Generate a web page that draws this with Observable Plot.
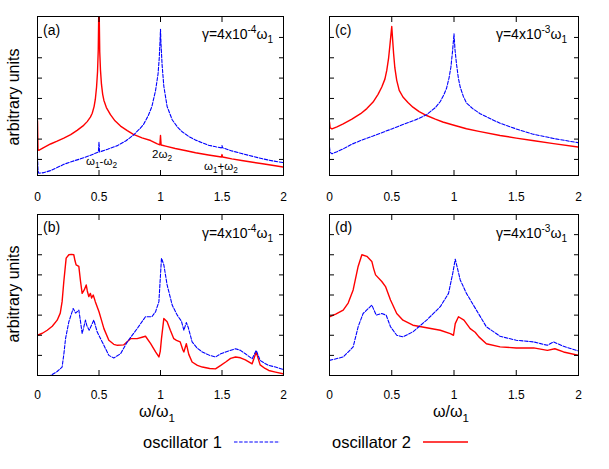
<!DOCTYPE html>
<html><head><meta charset="utf-8">
<script src="https://cdn.jsdelivr.net/npm/d3@7"></script>
<script src="https://cdn.jsdelivr.net/npm/@observablehq/plot@0.6"></script>
<style>
html,body{margin:0;padding:0;background:#fff;}
#wrap{position:relative;width:609px;height:469px;overflow:hidden;font-family:"Liberation Sans",Arial,sans-serif;}
#wrap svg{position:absolute;}
</style></head><body><div id="wrap"></div>
<script>
// ---------- data ----------
const xTicks = [0, 0.5, 1, 1.5, 2];
const yTicksTop = [0, 1, 2, 3, 4, 5, 6];
const yTicksBottom = [1, 2, 3, 4, 5, 6, 7];
const yDomainTop = [-0.79, 7.03];
const yDomainBottom = [0, 8];

// panel (a): gamma = 4e-4, harmonic drive
const a_osc2 = [[0,1.9],[0.004,0.5],[0.01,0.45],[0.05,0.58],[0.106,0.76],[0.16,0.9],[0.214,1.05],[0.27,1.22],[0.322,1.43],[0.37,1.65],[0.404,1.86],[0.43,2.08],[0.445,2.27],[0.46,2.6],[0.47,2.95],[0.48,3.55],[0.488,4.3],[0.494,5.4],[0.498,7.2],[0.5,8.5],[0.502,7.0],[0.506,5.3],[0.512,4.4],[0.52,3.7],[0.53,3.2],[0.54,2.9],[0.56,2.55],[0.593,2.2],[0.63,1.9],[0.675,1.64],[0.73,1.42],[0.78,1.23],[0.85,1.06],[0.92,0.93],[0.97,0.78],[0.995,0.72],[1.0,1.18],[1.005,0.71],[1.05,0.64],[1.12,0.54],[1.2,0.44],[1.285,0.33],[1.39,0.22],[1.495,0.12],[1.5,0.24],[1.505,0.12],[1.58,0.03],[1.66,-0.05],[1.75,-0.14],[1.83,-0.21],[1.92,-0.3],[2.0,-0.38]];
const a_osc1 = [[0,0.15],[0.004,-0.5],[0.01,-0.68],[0.05,-0.65],[0.106,-0.55],[0.16,-0.4],[0.214,-0.24],[0.28,-0.1],[0.35,0.03],[0.42,0.18],[0.495,0.36],[0.5,0.85],[0.505,0.37],[0.57,0.5],[0.65,0.68],[0.72,0.92],[0.78,1.2],[0.83,1.5],[0.86,1.7],[0.9,2.15],[0.93,2.6],[0.96,3.4],[0.98,4.2],[0.99,5.0],[0.996,5.8],[1.0,6.4],[1.004,5.7],[1.013,4.65],[1.027,3.6],[1.054,2.6],[1.095,1.95],[1.14,1.58],[1.176,1.36],[1.23,1.13],[1.285,0.95],[1.34,0.82],[1.39,0.7],[1.45,0.62],[1.495,0.57],[1.5,0.68],[1.505,0.57],[1.58,0.42],[1.66,0.29],[1.75,0.15],[1.83,0.03],[1.92,-0.08],[2.0,-0.16]];

// panel (c): gamma = 4e-3, harmonic drive
const c_osc2 = [[0,1.84],[0.005,1.55],[0.02,1.5],[0.06,1.6],[0.11,1.75],[0.18,1.98],[0.25,2.25],[0.3,2.5],[0.35,2.82],[0.39,3.2],[0.42,3.56],[0.445,3.95],[0.46,4.38],[0.475,5.0],[0.485,5.6],[0.493,6.1],[0.5,6.54],[0.507,5.9],[0.515,5.2],[0.525,4.5],[0.54,3.89],[0.56,3.4],[0.59,3.07],[0.63,2.8],[0.67,2.57],[0.72,2.35],[0.78,2.16],[0.85,1.98],[0.91,1.84],[1.0,1.68],[1.1,1.51],[1.2,1.38],[1.37,1.18],[1.5,1.05],[1.63,0.93],[1.8,0.78],[2.0,0.61]];
const c_osc1 = [[0,0.61],[0.005,0.35],[0.02,0.28],[0.06,0.38],[0.11,0.52],[0.18,0.75],[0.25,0.93],[0.35,1.15],[0.43,1.34],[0.5,1.5],[0.57,1.67],[0.64,1.83],[0.7,1.97],[0.78,2.2],[0.85,2.55],[0.89,2.85],[0.92,3.2],[0.94,3.5],[0.96,4.0],[0.975,4.54],[0.988,5.3],[1.0,6.18],[1.008,5.4],[1.02,4.7],[1.035,4.0],[1.05,3.56],[1.075,3.1],[1.1,2.78],[1.15,2.5],[1.21,2.25],[1.3,1.98],[1.37,1.78],[1.5,1.5],[1.63,1.25],[1.8,1.03],[2.0,0.82]];

// panel (b): gamma = 4e-4, random drive
const b_osc2 = [[0,2.0],[0.04,2.1],[0.079,2.25],[0.12,2.45],[0.16,2.75],[0.185,3.1],[0.2,3.67],[0.214,4.67],[0.233,5.83],[0.255,6.0],[0.275,6.02],[0.295,6.0],[0.305,5.7],[0.314,5.5],[0.336,5.42],[0.35,4.67],[0.363,4.08],[0.38,4.25],[0.396,4.5],[0.405,4.2],[0.417,3.92],[0.43,4.08],[0.44,3.85],[0.453,4.0],[0.47,3.67],[0.5,3.17],[0.52,2.75],[0.54,2.33],[0.58,1.75],[0.62,1.55],[0.65,1.5],[0.7,1.52],[0.756,1.83],[0.81,1.83],[0.85,1.9],[0.878,1.95],[0.92,1.58],[0.96,1.17],[0.987,0.92],[0.998,1.2],[1.008,1.83],[1.027,2.83],[1.054,2.67],[1.08,2.25],[1.108,1.83],[1.13,1.75],[1.16,1.67],[1.18,1.3],[1.19,1.17],[1.21,1.58],[1.23,1.05],[1.257,0.67],[1.3,0.5],[1.34,0.42],[1.4,0.35],[1.447,0.33],[1.49,0.5],[1.53,0.67],[1.57,0.85],[1.61,0.92],[1.65,0.88],[1.69,0.78],[1.745,0.58],[1.778,1.17],[1.81,0.53],[1.85,0.35],[1.88,0.25],[1.935,0.17],[2.0,0.08]];
const b_osc1 = [[0.06,-0.3],[0.106,0.0],[0.16,0.2],[0.2,0.42],[0.215,1.1],[0.228,1.83],[0.255,2.67],[0.29,3.33],[0.31,3.1],[0.336,3.25],[0.35,2.67],[0.363,2.08],[0.39,2.75],[0.40,2.5],[0.42,2.25],[0.458,2.75],[0.485,2.17],[0.526,1.67],[0.58,1.0],[0.62,0.87],[0.675,1.08],[0.73,1.67],[0.81,2.33],[0.878,2.92],[0.93,2.92],[0.96,3.17],[0.987,3.67],[1.008,5.83],[1.027,5.5],[1.054,4.5],[1.095,3.5],[1.136,3.0],[1.17,2.7],[1.19,2.25],[1.21,2.63],[1.225,2.4],[1.257,1.67],[1.3,1.35],[1.34,1.17],[1.4,1.0],[1.447,0.92],[1.49,1.08],[1.53,1.17],[1.61,1.33],[1.65,1.25],[1.69,1.08],[1.745,0.83],[1.778,1.25],[1.81,0.75],[1.85,0.6],[1.88,0.5],[1.935,0.42],[2.0,0.3]];

// panel (d): gamma = 4e-3, random drive
const d_osc2 = [[0,2.92],[0.05,3.05],[0.11,3.25],[0.15,3.6],[0.19,4.25],[0.23,5.42],[0.26,6.0],[0.3,5.92],[0.34,5.67],[0.355,5.3],[0.37,5.0],[0.42,4.67],[0.45,4.42],[0.49,3.75],[0.54,3.08],[0.59,2.75],[0.67,2.5],[0.78,2.37],[0.89,2.25],[0.97,2.08],[0.996,2.0],[1.01,2.58],[1.036,2.92],[1.08,2.75],[1.13,2.33],[1.17,2.15],[1.2,1.92],[1.26,1.58],[1.37,1.42],[1.5,1.37],[1.64,1.37],[1.75,1.25],[1.81,1.33],[1.88,1.17],[2.0,1.0]];
const d_osc1 = [[0,0.75],[0.11,0.92],[0.19,1.42],[0.23,2.42],[0.27,3.08],[0.34,3.5],[0.375,3.0],[0.42,3.08],[0.455,3.0],[0.49,2.42],[0.54,2.0],[0.59,1.92],[0.67,2.17],[0.78,2.75],[0.89,3.42],[0.956,4.08],[0.99,5.08],[1.01,5.78],[1.05,4.75],[1.1,4.08],[1.18,3.25],[1.26,2.42],[1.37,1.95],[1.5,1.75],[1.64,1.67],[1.75,1.5],[1.8,1.67],[1.88,1.45],[2.0,1.22]];

const panelLetters = ["(a)", "(b)", "(c)", "(d)"];
const gammaExps = ["-4", "-4", "-3", "-3"];
const legendLabels = ["oscillator 1", "oscillator 2"];
const colors = {osc1: "#0000ff", osc2: "#ff0000"};

// ---------- drawing ----------
const FONT = '"Liberation Sans", Arial, Helvetica, sans-serif';
const wrap = document.getElementById("wrap");
const fmt = d3.format("~g");

function panel(osc1, osc2, yDomain, yTicks, labelPad, frame) {
  const [L, R, T, B] = frame;
  const mB = 30;
  const svg = Plot.plot({
    width: R - L + 2, height: B - T + 1 + mB,
    marginLeft: 1, marginRight: 1, marginTop: 1, marginBottom: mB,
    style: {fontFamily: FONT, fontSize: "12px", background: "transparent", color: "black", overflow: "visible"},
    x: {domain: [0, 2]},
    y: {domain: yDomain},
    marks: [
      Plot.line(osc2, {x: d => d[0], y: d => d[1], stroke: colors.osc2, strokeWidth: 1.4, clip: true}),
      Plot.line(osc1, {x: d => d[0], y: d => d[1], stroke: colors.osc1, strokeWidth: 1.1, strokeDasharray: "3.5,1.6", clip: true}),
      Plot.axisX({anchor: "bottom", ticks: xTicks, tickSize: 5, dy: -5, fill: "none", label: null}),
      Plot.axisX({anchor: "top", ticks: xTicks, tickSize: 5, dy: 5, fill: "none", label: null}),
      Plot.axisY({anchor: "left", ticks: yTicks, tickSize: 5, dx: 5, fill: "none", label: null}),
      Plot.axisY({anchor: "right", ticks: yTicks, tickSize: 5, dx: -5, fill: "none", label: null}),
      Plot.axisX({anchor: "bottom", ticks: xTicks, tickSize: 0, tickPadding: labelPad, tickFormat: fmt, label: null, fontSize: 12}),
      Plot.frame({stroke: "black", strokeWidth: 1})
    ]
  });
  svg.style.left = (L - 1) + "px";
  svg.style.top = (T - 1) + "px";
  wrap.appendChild(svg);
}

panel(a_osc1, a_osc2, yDomainTop, yTicksTop, 17, [37, 283, 16, 175]);
panel(c_osc1, c_osc2, yDomainTop, yTicksTop, 17, [329, 578, 16, 175]);
panel(b_osc1, b_osc2, yDomainBottom, yTicksBottom, 14.5, [37, 283, 214, 375]);
panel(d_osc1, d_osc2, yDomainBottom, yTicksBottom, 14.5, [329, 578, 214, 375]);

// ---------- text overlay ----------
const ov = d3.select(wrap).append("svg")
  .attr("width", 609).attr("height", 469)
  .style("left", "0px").style("top", "0px")
  .style("font-family", FONT);

function rich(x, y, parts, fs, anchor = "start") {
  const t = ov.append("text").attr("x", x).attr("y", y)
    .attr("font-size", fs).attr("text-anchor", anchor).attr("fill", "black");
  let cur = 0;
  for (const [s, kind] of parts) {
    const target = kind === "sup" ? -0.42 * fs : kind === "sub" ? 0.3 * fs : 0;
    t.append("tspan").attr("dy", target - cur)
      .attr("font-size", kind === "n" ? fs : fs * 0.72).text(s);
    cur = target;
  }
  return t;
}

// panel letters
rich(43, 35, [[panelLetters[0], "n"]], 14);
rich(43, 232, [[panelLetters[1], "n"]], 14);
rich(335, 35, [[panelLetters[2], "n"]], 14);
rich(335, 232, [[panelLetters[3], "n"]], 14);

// gamma labels
function gamma(xEnd, y, e) {
  rich(xEnd, y, [["γ=4x10", "n"], [e, "sup"], ["ω", "n"], ["1", "sub"]], 14, "end");
}
gamma(273, 39, gammaExps[0]);
gamma(273, 238, gammaExps[1]);
gamma(567, 39, gammaExps[2]);
gamma(567, 238, gammaExps[3]);

// combination-frequency annotations in (a)
rich(86, 165, [["ω", "n"], ["1", "sub"], ["-ω", "n"], ["2", "sub"]], 11.5);
rich(152, 158, [["2ω", "n"], ["2", "sub"]], 11.5);
rich(204, 170, [["ω", "n"], ["1", "sub"], ["+ω", "n"], ["2", "sub"]], 11.5);

// y labels
ov.append("text").attr("transform", "translate(19,97) rotate(-90)")
  .attr("text-anchor", "middle").attr("font-size", 16).text("arbitrary units");
ov.append("text").attr("transform", "translate(19,294) rotate(-90)")
  .attr("text-anchor", "middle").attr("font-size", 16).text("arbitrary units");

// x labels
rich(157, 417, [["ω/ω", "n"], ["1", "sub"]], 16, "middle");
rich(451, 417, [["ω/ω", "n"], ["1", "sub"]], 16, "middle");

// legend
rich(143, 448, [[legendLabels[0], "n"]], 16.5);
rich(332, 448, [[legendLabels[1], "n"]], 16.5);
ov.append("line").attr("x1", 234).attr("x2", 280).attr("y1", 442).attr("y2", 442)
  .attr("stroke", colors.osc1).attr("stroke-width", 1.1).attr("stroke-dasharray", "3.5,1.6");
ov.append("line").attr("x1", 423).attr("x2", 468).attr("y1", 442).attr("y2", 442)
  .attr("stroke", colors.osc2).attr("stroke-width", 1.4);
</script></body></html>
